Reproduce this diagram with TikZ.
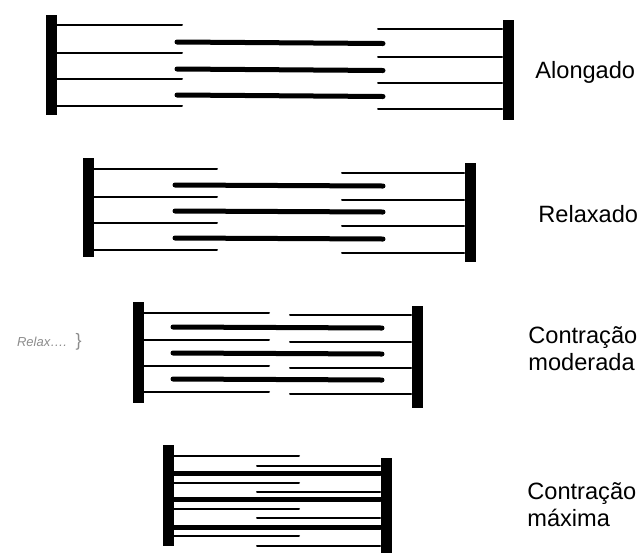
\documentclass[tikz,border=0pt]{standalone}
\usepackage{fontspec}
\setmainfont{Liberation Sans}
\usetikzlibrary{positioning}

\begin{document}
\begin{tikzpicture}[
    x=0.5pt, y=-0.5pt,
    zline/.style={rectangle, fill=black, inner sep=0pt, minimum width=5.5pt},
    actin/.style={line width=1pt, line cap=round},
    myosin/.style={line width=2.5pt, line cap=round},
    lbl/.style={anchor=base west, align=left, inner sep=0pt, font=\fontsize{11.8}{13.5}\selectfont},
    note/.style={text=black!45, font=\fontsize{6.5}{7}\selectfont\itshape, inner sep=0pt}
]
\useasboundingbox (0,0) rectangle (644,553);

% Sarcomere stretched
\node[zline, minimum height=50pt] (zA) at (51,65) {};
\node[zline, minimum height=50pt] (zB) at (508,70) {};
\foreach \y in {25,53,79,106} \draw[actin] (zA.east |- 0,\y) -- (182,\y);
\foreach \y in {42,69,95} \draw[myosin] (177,\y) -- (383,\y+1.5);
\foreach \y in {29,57,83,109} \draw[actin] (378,\y) -- (zB.west |- 0,\y);
\node[lbl] (alongado) at (535,78) {Alongado};

% Sarcomere at rest
\node[zline, minimum height=49.5pt] (zC) at (88,207.5) {};
\node[zline, minimum height=49.5pt] (zD) at (470,212.5) {};
\foreach \y in {169,197,223,250} \draw[actin] (zC.east |- 0,\y) -- (217,\y);
\foreach \y in {185,211,238} \draw[myosin] (175,\y) -- (383,\y+1);
\foreach \y in {173,200,226,253} \draw[actin] (342,\y) -- (zD.west |- 0,\y);
\node[lbl] (relaxado) at (538,222) {Relaxado};

% Moderate contraction
\node[zline, minimum height=50.5pt] (zE) at (138,352.5) {};
\node[zline, minimum height=51pt] (zF) at (417,357) {};
\foreach \y in {313,340,366,392} \draw[actin] (zE.east |- 0,\y) -- (269,\y);
\foreach \y in {327,353,379} \draw[myosin] (173,\y) -- (382,\y+1);
\foreach \y in {315,342,368,394} \draw[actin] (290,\y) -- (zF.west |- 0,\y);
\node[lbl] (moderada) at (528,370) {Contração\\moderada};
\node[note] (rasura) at (42,342) {Relax\ldots.};
\node[note, right=4pt of rasura, font=\fontsize{9}{10}\selectfont] (chave) {\}};

% Maximal contraction
\node[zline, minimum height=50.5pt] (zG) at (168.5,495.5) {};
\node[zline, minimum height=47.5pt] (zH) at (386,505.5) {};
\foreach \y in {456,483,509,536} \draw[actin] (zG.east |- 0,\y) -- (299,\y);
\foreach \y in {473,499,527} \draw[myosin] (zG.east |- 0,\y) -- (zH.west |- 0,\y);
\foreach \y in {466,492,518,546} \draw[actin] (257,\y) -- (zH.west |- 0,\y);
\node[lbl] (maxima) at (527,526) {Contração\\máxima};

\end{tikzpicture}
\end{document}
